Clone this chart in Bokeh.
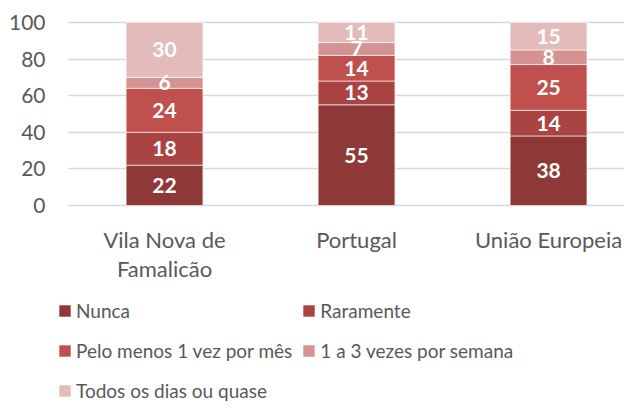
import numpy as np
from bokeh.plotting import figure
from bokeh.models import (ColumnDataSource, Range1d, FixedTicker, Legend, LegendItem, LabelSet)
from bokeh.core.properties import value
from bokeh.embed import file_html
from bokeh.resources import INLINE

categories = ["Vila Nova de\nFamalicão", "Portugal", "União Europeia"]
series_names = ["Nunca", "Raramente", "Pelo menos 1 vez por mês",
                "1 a 3 vezes por semana", "Todos os dias ou quase"]
nunca = [22, 55, 38]
raramente = [18, 13, 14]
pelo_menos = [24, 14, 25]
um_a_tres = [6, 7, 8]
todos = [30, 11, 15]
colors = ["#8E3937", "#A94442", "#C0504D", "#D49392", "#E3BBBB"]
y_ticks = [0, 20, 40, 60, 80, 100]

FONT = "Lato"
GREY = "#595959"

xs = list(range(len(categories)))
keys = ["s0", "s1", "s2", "s3", "s4"]
values = [nunca, raramente, pelo_menos, um_a_tres, todos]
src = ColumnDataSource(dict(x=xs, **{k: v for k, v in zip(keys, values)}))

p = figure(width=624, height=403, output_backend="svg", toolbar_location=None,
           x_range=Range1d(-0.8542, 2.3955), y_range=Range1d(-108.2, 112.0),
           min_border_top=0, min_border_left=0, min_border_right=0,
           min_border_bottom=0)
p.outline_line_color = None
p.background_fill_color = None
p.border_fill_color = "white"

rends = p.vbar_stack(keys, x="x", width=0.4, source=src, color=colors,
                     line_color="white", line_alpha=0.6, line_width=1)

# data labels
arr = np.array(values, dtype=float)
cum = np.cumsum(arr, axis=0)
mids = cum - arr / 2
lx, ly, lt = [], [], []
for i in range(arr.shape[0]):
    for j in range(arr.shape[1]):
        lx.append(xs[j]); ly.append(mids[i, j]); lt.append(str(int(arr[i, j])))
lsrc = ColumnDataSource(dict(x=lx, y=ly, t=lt))
labels = LabelSet(x="x", y="y", text="t", source=lsrc, text_align="center",
                  text_baseline="middle", text_color="white",
                  text_font=value(FONT), text_font_style="bold", text_font_size="21px")
p.add_layout(labels)

# axes (drawn inside the frame at fixed data locations)
p.xaxis.ticker = FixedTicker(ticks=xs)
p.xaxis.major_label_overrides = {i: c for i, c in zip(xs, categories)}
p.xaxis.fixed_location = 0
p.yaxis.ticker = FixedTicker(ticks=y_ticks)
p.yaxis.fixed_location = -0.5
for ax in (p.xaxis, p.yaxis):
    ax.axis_line_color = None
    ax.major_tick_line_color = None
    ax.minor_tick_line_color = None
    ax.major_tick_out = 0
    ax.major_tick_in = 0
    ax.minor_tick_out = 0
    ax.major_label_text_font = FONT
    ax.major_label_text_color = GREY
p.yaxis.major_label_text_font_size = "21px"
p.xaxis.major_label_text_font_size = "22px"
p.xaxis.major_label_text_line_height = 1.05
p.yaxis.major_label_standoff = 23
p.xaxis.major_label_standoff = 21
p.xgrid.grid_line_color = None
p.ygrid.grid_line_color = "#D9D9D9"
p.ygrid.grid_line_width = 1.5
p.ygrid.cross_bounds = (-0.5, 2.3955)

legend = Legend(items=[LegendItem(label=n, renderers=[r]) for n, r in zip(series_names, rends)],
                orientation="horizontal", ncols=2, location=(57, -3),
                label_text_font=FONT, label_text_font_size="19px",
                label_text_color=GREY, glyph_width=15, glyph_height=15,
                label_height=31, label_standoff=4, spacing=9, padding=0, margin=0,
                border_line_color=None, background_fill_alpha=0)
p.add_layout(legend, "center")

open("out.html", "w").write(file_html(p, INLINE))
